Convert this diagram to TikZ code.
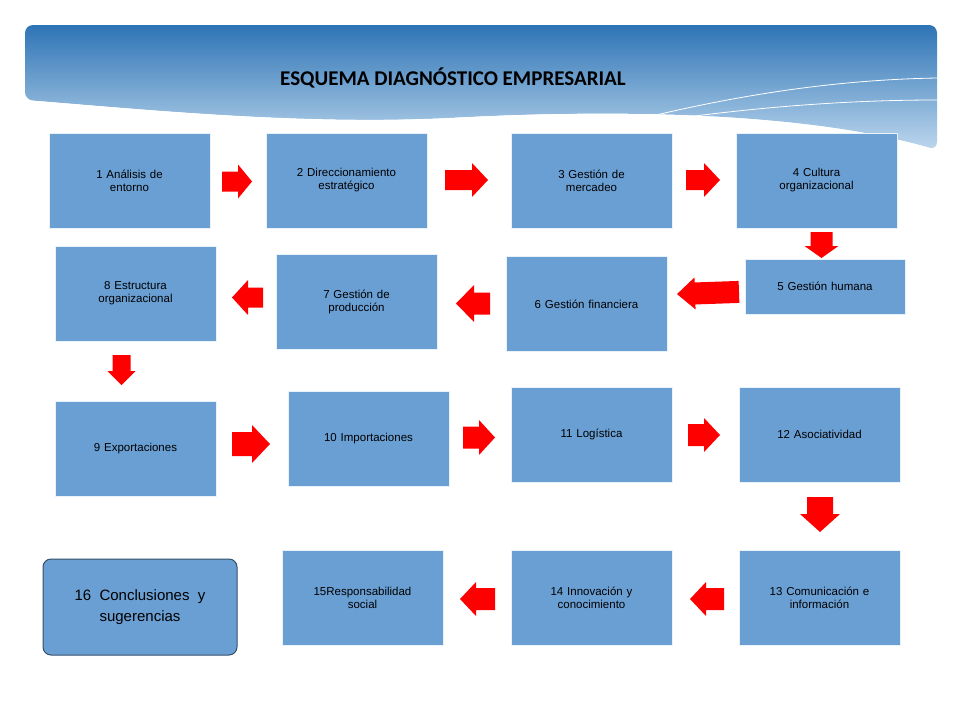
\documentclass[tikz,border=0pt]{standalone}
\usepackage{fontspec}
\setmainfont{Liberation Sans}
\newfontfamily\titlefont{Carlito}
\usetikzlibrary{calc}
\definecolor{boxblue}{HTML}{6A9FD4}
\definecolor{bandtop}{HTML}{2E74B5}
\definecolor{bandlow}{HTML}{BDD7EE}
\tikzset{
 box/.style={draw=white!85!boxblue,line width=0.8pt,fill=boxblue,minimum width=161pt,minimum height=95pt,align=center,font=\fontsize{11.5}{13}\selectfont,inner sep=2pt,text width=155pt},
}
% \barrow{x}{y}{angle}{length}{head width}{shaft width}{head length}
\newcommand{\barrow}[7]{%
 \begin{scope}[shift={(#1,#2)},rotate=#3]
 \fill[red] (-#4/2,-#6/2) -- (#4/2-#7,-#6/2) -- (#4/2-#7,-#5/2) -- (#4/2,0) -- (#4/2-#7,#5/2) -- (#4/2-#7,#6/2) -- (-#4/2,#6/2) -- cycle;
 \end{scope}}
\begin{document}
\begin{tikzpicture}[x=1pt,y=-1pt]
\useasboundingbox (0,0) rectangle (960,720);
\fill[white] (0,0) rectangle (960,720);
\shade[top color=bandtop,bottom color=bandlow,rounded corners=8pt]
 (25,25) -- (937,25) -- (937,150) .. controls (800,110) and (600,110) .. (450,118) .. controls (300,125) and (150,110) .. (25,100) -- cycle;
\fill[white] (25,100) .. controls (150,110) and (300,125) .. (450,118) .. controls (600,110) and (800,110) .. (937,150) -- (937,160) -- (25,160) -- cycle;
\draw[white,line width=0.8pt] (560,140) .. controls (700,100) and (820,80) .. (937,78);
\draw[white,line width=0.8pt] (600,130) .. controls (720,110) and (830,100) .. (937,100);
\node[font=\titlefont\bfseries\fontsize{21}{24}\selectfont] (t) at (453,78) {ESQUEMA DIAGNÓSTICO EMPRESARIAL};
\node[box] (b1) at (129.5,180.5) {1 Análisis de\\entorno};
\node[box] (b2) at (346.5,180.5) {2 Direccionamiento\\estratégico\\[14pt]};
\node[box] (b3) at (591.5,180.5) {3 Gestión de\\mercadeo};
\node[box] (b4) at (816.5,180.5) {4 Cultura\\organizacional};
\node[box,minimum height=55pt,minimum width=160pt] (b5) at (825,286.5) {5 Gestión humana};
\node[box] (b6) at (586.5,304) {6 Gestión financiera};
\node[box] (b7) at (356.5,302) {7 Gestión de\\producción};
\node[box] (b8) at (135.5,293.5) {8 Estructura\\organizacional\\[14pt]};
\node[box] (b9) at (135.5,448.5) {9 Exportaciones};
\node[box] (b10) at (368.5,438.5) {10 Importaciones};
\node[box] (b11) at (591.5,434.5) {11 Logística\\[20pt]};
\node[box] (b12) at (819.5,434.5) {12 Asociatividad};
\node[box] (b13) at (819.5,597.5) {13 Comunicación e\\información};
\node[box] (b14) at (591.5,597.5) {14 Innovación y\\conocimiento};
\node[box] (b15) at (362.5,597.5) {15Responsabilidad\\social};
\node[draw=boxblue!50!black,line width=1pt,fill=boxblue,rounded corners=8pt,minimum width=194pt,minimum height=96pt,align=center,font=\fontsize{15}{21}\selectfont] (b16) at (140,607) {16~ Conclusiones~ y\\sugerencias};
\barrow{237}{181.5}{0}{30}{34}{20}{14}
\barrow{466.5}{180}{0}{43}{34}{20}{16}
\barrow{703}{180}{0}{34}{34}{20}{16}
\barrow{821.5}{245}{-90}{26}{34}{22}{12}
\barrow{708}{293}{182}{62}{32}{22}{18}
\barrow{473}{303.5}{180}{34}{37}{22}{18}
\barrow{247.5}{297.5}{180}{31}{35}{20}{16}
\barrow{121.5}{370}{-90}{30}{28}{18}{14}
\barrow{251}{444}{0}{38}{38}{24}{18}
\barrow{479}{437.5}{0}{32}{35}{22}{16}
\barrow{704}{435}{0}{32}{34}{22}{16}
\barrow{820}{514.5}{-90}{35}{40}{26}{18}
\barrow{707}{599}{180}{34}{34}{22}{16}
\barrow{477.5}{599}{180}{35}{34}{22}{16}
\end{tikzpicture}
\end{document}
